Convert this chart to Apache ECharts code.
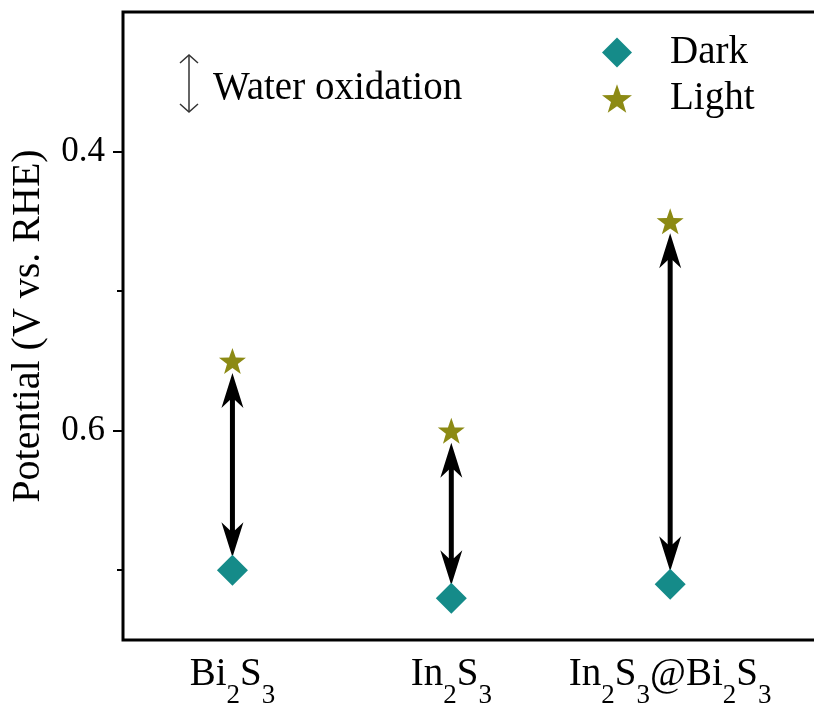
<!DOCTYPE html>
<html>
<head>
<meta charset="utf-8">
<script src="https://cdn.jsdelivr.net/npm/echarts@6/dist/echarts.min.js"></script>
<style>
  html, body { margin: 0; padding: 0; background: #fff; }
  #chart { width: 814px; height: 704px; }
</style>
</head>
<body>
<div id="chart"></div>
<script>
// samples on the x axis (rich text, {s|n} = subscript)
var categories = ['Bi{s|2}S{s|3}', 'In{s|2}S{s|3}', 'In{s|2}S{s|3}@Bi{s|2}S{s|3}']
// potentials (V vs. RHE)
var darkValues = [0.70, 0.72, 0.71]
var lightValues = [0.55, 0.60, 0.45]
var yTickLabels = [0.4, 0.6]
var yMinorTicks = [0.5, 0.7]

var serif = 'Liberation Serif'
var starPath = 'path://M50 0L61.76 33.82L97.55 34.55L69.02 56.18L79.39 90.45L50 70L20.61 90.45L30.98 56.18L2.45 34.55L38.24 33.82Z'

var darkData = darkValues.map(function(v, i) { return [i + 1, v] })
var lightData = lightValues.map(function(v, i) { return [i + 1, v] })
var arrowData = darkValues.map(function(v, i) { return [i + 1, v, lightValues[i]] })

function renderArrow(params, api) {
  var top = api.coord([api.value(0), api.value(2)])
  var bot = api.coord([api.value(0), api.value(1)])
  var x = top[0]
  var y1 = top[1] + 12
  var y2 = bot[1] - 13
  var hl = 35
  var hw = 11
  return {
    type: 'group',
    children: [{
      type: 'line',
      shape: { x1: x, y1: y1 + 25, x2: x, y2: y2 - 25 },
      style: { stroke: '#000', lineWidth: 5 }
    }, {
      type: 'polygon',
      shape: { points: [[x, y1], [x - hw, y1 + hl], [x - 2.5, y1 + 27], [x + 2.5, y1 + 27], [x + hw, y1 + hl]] },
      style: { fill: '#000' }
    }, {
      type: 'polygon',
      shape: { points: [[x, y2], [x - hw, y2 - hl], [x - 2.5, y2 - 27], [x + 2.5, y2 - 27], [x + hw, y2 - hl]] },
      style: { fill: '#000' }
    }]
  }
}

var chart = echarts.init(document.getElementById('chart'))
chart.setOption({
  backgroundColor: '#fff',
  animation: false,
  grid: {
    show: true,
    left: 123,
    right: -5,
    top: 12,
    bottom: 64,
    outerBoundsMode: 'none',
    containLabel: false,
    borderColor: '#000',
    borderWidth: 3,
    backgroundColor: 'transparent'
  },
  legend: {
    orient: 'vertical',
    left: 597,
    top: 28,
    itemWidth: 30,
    itemHeight: 30,
    itemGap: 7,
    data: ['Dark', 'Light'],
    textStyle: {
      fontFamily: serif,
      fontSize: 39,
      color: '#000',
      lineHeight: 30,
      padding: [0, 0, 0, 33]
    }
  },
  graphic: [{
    type: 'polyline',
    shape: { points: [[189, 55], [189, 112]] },
    style: { stroke: '#333', lineWidth: 1.5, fill: null }
  }, {
    type: 'polyline',
    shape: { points: [[180, 63], [189, 55], [198, 63]] },
    style: { stroke: '#333', lineWidth: 1.5, fill: null }
  }, {
    type: 'polyline',
    shape: { points: [[180, 104], [189, 112], [198, 104]] },
    style: { stroke: '#333', lineWidth: 1.5, fill: null }
  }, {
    type: 'text',
    left: 213,
    top: 69,
    style: { text: 'Water oxidation', font: '39px "Liberation Serif"', fill: '#000' }
  }],
  xAxis: {
    type: 'value',
    min: 0.5,
    max: 3.68,
    axisLine: { show: false },
    axisTick: { show: false },
    splitLine: { show: false },
    axisLabel: {
      customValues: [1, 2, 3],
      margin: 15,
      formatter: function(v) { return categories[Math.round(v) - 1] },
      fontFamily: serif,
      fontSize: 39,
      color: '#000',
      lineHeight: 40,
      verticalAlign: 'top',
      rich: {
        s: { fontFamily: serif, fontSize: 27, color: '#000', lineHeight: 27, verticalAlign: 'top', padding: [27, 0, 0, 0] }
      }
    }
  },
  yAxis: [{
    type: 'value',
    inverse: true,
    min: 0.3,
    max: 0.75,
    name: 'Potential (V vs. RHE)',
    nameLocation: 'middle',
    nameGap: 75,
    nameTextStyle: { fontFamily: serif, fontSize: 40, color: '#000' },
    axisLine: { show: false },
    splitLine: { show: false },
    axisTick: { customValues: yTickLabels, length: 10, lineStyle: { color: '#000', width: 2 } },
    axisLabel: {
      customValues: yTickLabels,
      margin: 18,
      formatter: function(v) { return v.toFixed(1) },
      fontFamily: serif,
      fontSize: 35,
      color: '#000'
    }
  }, {
    type: 'value',
    position: 'left',
    inverse: true,
    min: 0.3,
    max: 0.75,
    axisLine: { show: false },
    splitLine: { show: false },
    axisTick: { customValues: yMinorTicks, length: 6, lineStyle: { color: '#000', width: 2 } },
    axisLabel: { show: false }
  }],
  series: [{
    name: 'arrows',
    type: 'custom',
    renderItem: renderArrow,
    data: arrowData,
    z: 1
  }, {
    name: 'Dark',
    type: 'scatter',
    symbol: 'diamond',
    symbolSize: 31,
    itemStyle: { color: '#158b89', opacity: 1 },
    data: darkData,
    z: 3
  }, {
    name: 'Light',
    type: 'scatter',
    symbol: starPath,
    symbolSize: [27, 26],
    itemStyle: { color: '#8c8a14', opacity: 1 },
    data: lightData,
    z: 3
  }]
})
</script>
</body>
</html>
